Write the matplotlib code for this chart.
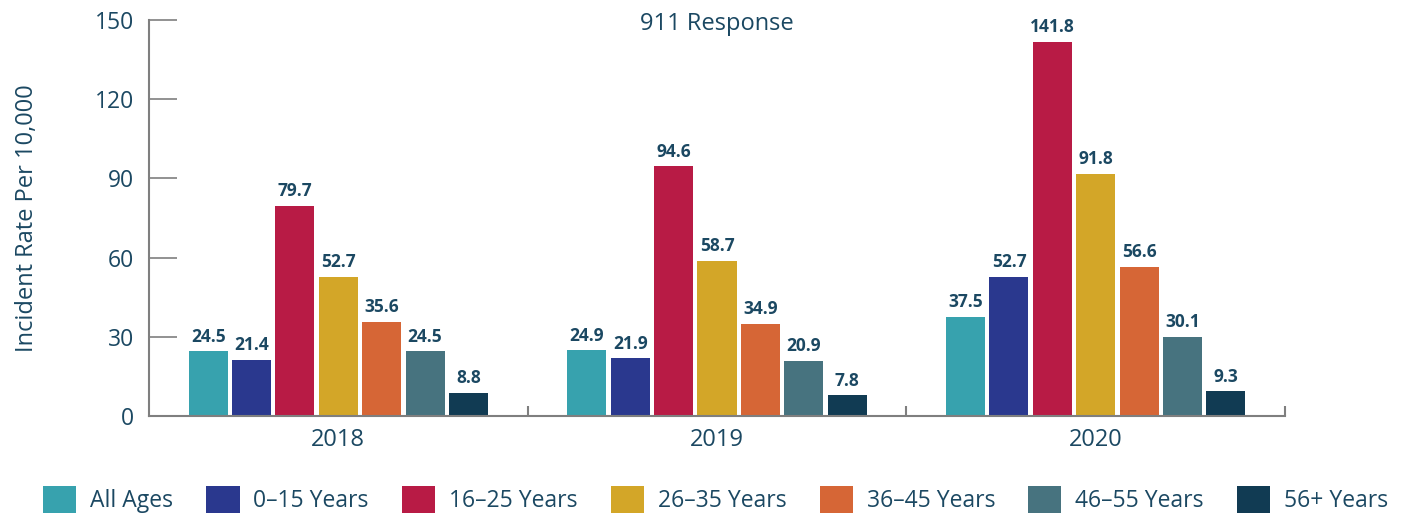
import numpy as np
import matplotlib.pyplot as plt
from matplotlib.patches import Patch

plt.rcParams['font.family'] = ['Open Sans', 'DejaVu Sans']

text_color = '#1b4862'
axis_color = '#7f7f7f'

years = ['2018', '2019', '2020']
groups = ['All Ages', '0\u201315 Years', '16\u201325 Years', '26\u201335 Years',
          '36\u201345 Years', '46\u201355 Years', '56+ Years']
colors = ['#37a2ae', '#2a388e', '#b81b45', '#d3a628', '#d66636', '#47737f', '#113b53']

all_ages = [24.5, 24.9, 37.5]
age_0_15 = [21.4, 21.9, 52.7]
age_16_25 = [79.7, 94.6, 141.8]
age_26_35 = [52.7, 58.7, 91.8]
age_36_45 = [35.6, 34.9, 56.6]
age_46_55 = [24.5, 20.9, 30.1]
age_56_up = [8.8, 7.8, 9.3]

series = [all_ages, age_0_15, age_16_25, age_26_35, age_36_45, age_46_55, age_56_up]

fig = plt.figure(figsize=(14.06, 5.16), dpi=100)
ax = fig.add_axes([149 / 1406, 1 - 416 / 516, (1285 - 149) / 1406, (416 - 20) / 516])

x = np.arange(len(years))
pitch = 0.1145
width = 0.103
for i, (vals, c) in enumerate(zip(series, colors)):
    pos = x + (i - 3) * pitch
    bars = ax.bar(pos, vals, width, color=c, label=groups[i])
    for b, v in zip(bars, vals):
        ax.annotate('%.1f' % v, (b.get_x() + b.get_width() / 2, v),
                    xytext=(0, 4), textcoords='offset points',
                    ha='center', va='bottom', fontsize=12.5, fontweight='bold',
                    color=text_color)

ax.set_xlim(-0.5, 2.5)
ax.set_ylim(0, 150)
ax.set_yticks([0, 30, 60, 90, 120, 150])
ax.set_xticks(x)
ax.set_xticklabels(years)
ax.set_xticks([0.5, 1.5, 2.5], minor=True)

ax.tick_params(axis='y', direction='in', length=20, width=1.2, color=axis_color,
               labelsize=16.5, labelcolor=text_color, pad=11)
ax.tick_params(axis='x', which='major', length=0, labelsize=17,
               labelcolor=text_color, pad=9)
ax.tick_params(axis='x', which='minor', direction='in', length=7, width=1.5,
               color=axis_color)

for s in ['top', 'right']:
    ax.spines[s].set_visible(False)
for s in ['left', 'bottom']:
    ax.spines[s].set_color(axis_color)
    ax.spines[s].set_linewidth(1.5)

ax.set_ylabel('Incident Rate Per 10,000', fontsize=17, color=text_color, labelpad=40)
ax.text(0.5, 0.99, '911 Response', transform=ax.transAxes, ha='center', va='center',
        fontsize=17, color=text_color)

handles = [Patch(facecolor=c, label=g) for c, g in zip(colors, groups)]
leg = fig.legend(handles=handles, loc='center', bbox_to_anchor=(0.509, 0.032), ncol=7,
                 frameon=False, fontsize=16.5, handlelength=1.45, handleheight=1.45,
                 handletextpad=0.6, columnspacing=1.45)
for t in leg.get_texts():
    t.set_color(text_color)

fig.savefig('out.png', dpi=100)
